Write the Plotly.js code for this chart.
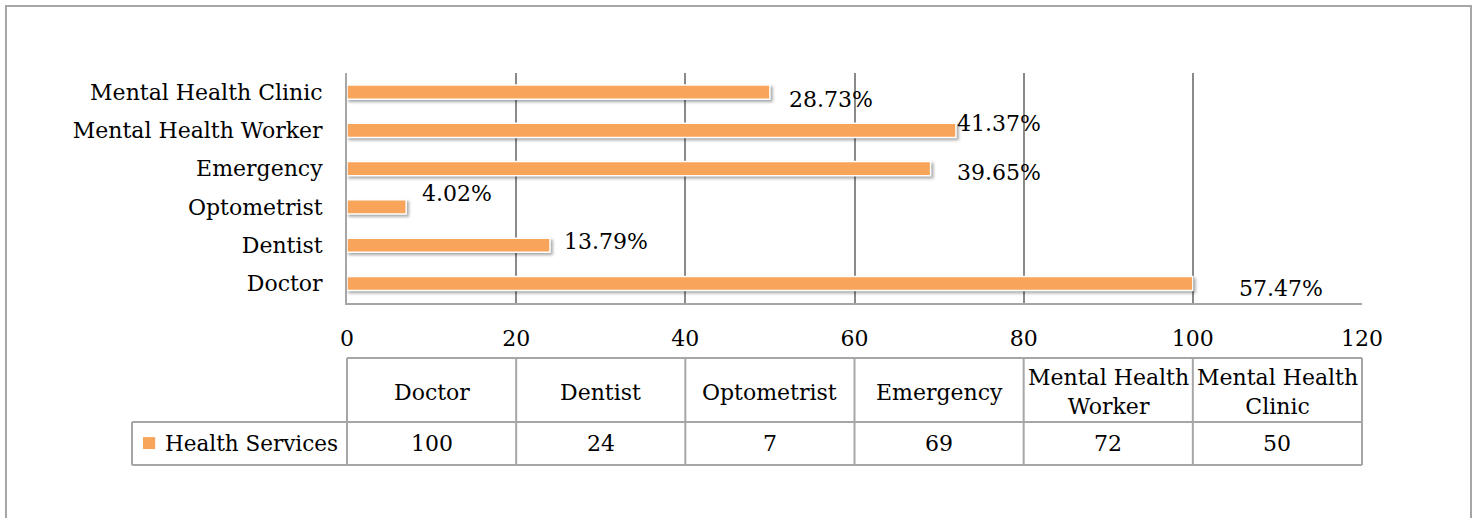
<!DOCTYPE html>
<html>
<head>
<meta charset="utf-8">
<script src="https://cdn.plot.ly/plotly-3.0.1.min.js"></script>
<style>
  html, body { margin: 0; padding: 0; background: #fff; }
  #chart { width: 1476px; height: 518px; }
  .trace.bars path { filter: drop-shadow(2px 2px 1.5px rgba(0,0,0,0.35)); }
</style>
</head>
<body>
<div id="chart"></div>
<script>
// ---- data ----
const categories = ['Doctor', 'Dentist', 'Optometrist', 'Emergency', 'Mental Health Worker', 'Mental Health Clinic'];
const values = [100, 24, 7, 69, 72, 50];
const percentLabels = ['57.47%', '13.79%', '4.02%', '39.65%', '41.37%', '28.73%'];
const seriesName = 'Health Services';
const xTicks = [0, 20, 40, 60, 80, 100, 120];

// ---- styling ----
const FONT = 'DejaVu Serif';
const FS = 22;
const ORANGE = '#F8A55B';
const GRID = '#8a8a8a';
const LINE = '#a6a6a6';

// label offsets (px) relative to bar end, per category, as in the source chart
const labelDx = [44, 12, 14, 24, -1, 17];
const labelDy = [-5, 4, 13, -4, 7, -7];

const trace = {
  type: 'bar',
  orientation: 'h',
  x: values,
  y: categories,
  name: seriesName,
  marker: { color: ORANGE, line: { color: '#ffffff', width: 1.5 } },
  hoverinfo: 'x+y',
  showlegend: false
};

const annotations = [];
// data labels
categories.forEach((c, i) => {
  annotations.push({
    x: values[i], y: c, xref: 'x', yref: 'y',
    text: percentLabels[i], showarrow: false,
    xanchor: 'left', yanchor: 'middle',
    xshift: labelDx[i], yshift: labelDy[i],
    font: { family: FONT, size: FS, color: '#000' }
  });
});

// data table (below the axis)
const yTop = -0.2391, yMid = -0.5174, yBot = -0.7043, xLeg = -0.2118;
const nCol = categories.length;
const shapes = [];
const tableLine = { color: LINE, width: 2 };
shapes.push({ type: 'line', xref: 'paper', yref: 'paper', x0: 0, x1: 1, y0: yTop, y1: yTop, line: tableLine });
shapes.push({ type: 'line', xref: 'paper', yref: 'paper', x0: xLeg, x1: 1, y0: yMid, y1: yMid, line: tableLine });
shapes.push({ type: 'line', xref: 'paper', yref: 'paper', x0: xLeg, x1: 1, y0: yBot, y1: yBot, line: tableLine });
shapes.push({ type: 'line', xref: 'paper', yref: 'paper', x0: xLeg, x1: xLeg, y0: yMid, y1: yBot, line: tableLine });
for (let k = 0; k <= nCol; k++) {
  shapes.push({ type: 'line', xref: 'paper', yref: 'paper', x0: k / nCol, x1: k / nCol, y0: yTop, y1: yBot, line: tableLine });
}
categories.forEach((c, i) => {
  const cx = (i + 0.5) / nCol;
  annotations.push({
    x: cx, y: (yTop + yMid) / 2 - 0.01, xref: 'paper', yref: 'paper',
    text: c.replace('Health ', 'Health<br>'), showarrow: false,
    xanchor: 'center', yanchor: 'middle',
    font: { family: FONT, size: FS, color: '#000' }
  });
  annotations.push({
    x: cx, y: (yMid + yBot) / 2, xref: 'paper', yref: 'paper',
    text: String(values[i]), showarrow: false,
    xanchor: 'center', yanchor: 'middle',
    font: { family: FONT, size: FS, color: '#000' }
  });
});
// legend key in table
shapes.push({ type: 'rect', xref: 'paper', yref: 'paper', x0: -0.201, x1: -0.189, y0: -0.635, y1: -0.583,
  line: { width: 0 }, fillcolor: ORANGE });
annotations.push({
  x: -0.1813, y: (yMid + yBot) / 2, xref: 'paper', yref: 'paper',
  text: seriesName, showarrow: false, xanchor: 'left', yanchor: 'middle',
  font: { family: FONT, size: 21.5, color: '#000' }
});
// outer chart border
shapes.push({ type: 'rect', xref: 'paper', yref: 'paper', x0: -0.336, x1: 1.1074, y0: -1.2, y1: 1.2913,
  line: { color: LINE, width: 2 }, fillcolor: 'rgba(0,0,0,0)', layer: 'below' });

const layout = {
  width: 1476, height: 518,
  margin: { l: 347, r: 114, t: 73, b: 215 },
  paper_bgcolor: '#ffffff', plot_bgcolor: '#ffffff',
  bargap: 0.63,
  showlegend: false,
  xaxis: {
    range: [0, 120], tickvals: xTicks, ticktext: xTicks.map(String),
    showgrid: true, gridcolor: GRID, gridwidth: 2,
    zeroline: false, showline: true, linecolor: LINE, linewidth: 2,
    ticks: '', ticklabelstandoff: 15,
    tickfont: { family: FONT, size: FS, color: '#000' },
    fixedrange: true
  },
  yaxis: {
    type: 'category', categoryorder: 'array', categoryarray: categories,
    showgrid: false, zeroline: false, showline: true, linecolor: LINE, linewidth: 2,
    ticks: '', ticklabelstandoff: 18,
    tickfont: { family: FONT, size: FS, color: '#000' },
    fixedrange: true
  },
  shapes: shapes,
  annotations: annotations
};

Plotly.newPlot('chart', [trace], layout, { displayModeBar: false, staticPlot: true });
</script>
</body>
</html>
